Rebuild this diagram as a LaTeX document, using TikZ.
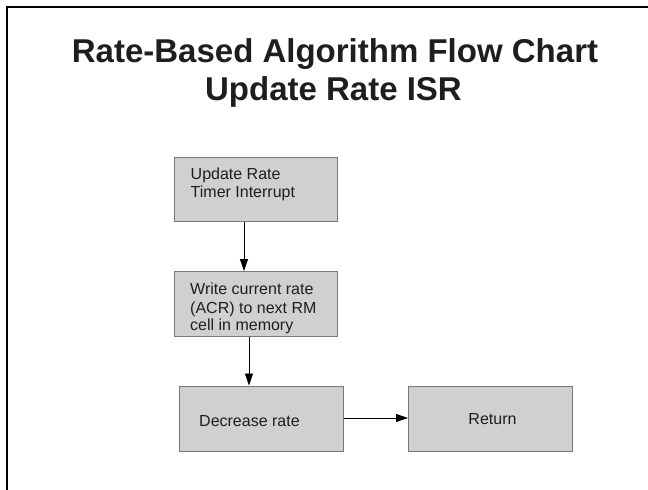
\documentclass[tikz,border=0pt]{standalone}
\usepackage{fontspec}
\setmainfont{Liberation Sans}
\usetikzlibrary{arrows.meta}
\definecolor{boxfill}{RGB}{208,208,208}
\definecolor{boxline}{RGB}{120,120,120}
\definecolor{ink}{RGB}{30,30,30}
\begin{document}
\begin{tikzpicture}[x=1pt,y=-1pt,
  box/.style={draw=boxline, fill=boxfill, line width=1pt, rectangle, inner sep=0pt},
  lbl/.style={font=\fontsize{16}{18.5}\selectfont, align=left, inner sep=0pt, anchor=base west, text=ink},
  ttl/.style={font=\fontsize{33}{38}\selectfont\bfseries, inner sep=0pt, anchor=base, text=ink},
  arr/.style={-{Triangle[length=12pt,width=8pt]}, line width=0.8pt}]
\useasboundingbox (0,0) rectangle (648,490);
\fill[white] (0,0) rectangle (648,490);
\draw[line width=2pt] (7,491) -- (7,7) -- (649,7);
\node[ttl] (t1) at (335,62) {Rate-Based Algorithm Flow Chart};
\node[ttl] (t2) at (333.5,100) {Update Rate ISR};
% boxes
\node[box, minimum width=163pt, minimum height=64pt, anchor=north west] (b1) at (174,157) {};
\node[box, minimum width=163pt, minimum height=65pt, anchor=north west] (b2) at (174,271) {};
\node[box, minimum width=164pt, minimum height=65pt, anchor=north west] (b3) at (179,385.5) {};
\node[box, minimum width=164pt, minimum height=65pt, anchor=north west] (b4) at (408,385.5) {};
% labels
\node[lbl] (l1a) at (190.5,179) {Update Rate};
\node[lbl] (l1b) at (190.5,197.7) {Timer Interrupt};
\node[lbl] (l2a) at (190,294.7) {Write current rate};
\node[lbl] (l2b) at (190,313) {(ACR) to next RM};
\node[lbl] (l2c) at (190,330.7) {cell in memory};
\node[lbl] (l3) at (199,426.7) {Decrease rate};
\node[lbl, anchor=base] (l4) at (492.5,424) {Return};
% connectors
\coordinate (x1) at (244,0);
\coordinate (x2) at (249,0);
\coordinate (y3) at (0,418);
\draw[arr] (b1.south -| x1) -- (b2.north -| x1);
\draw[arr] (b2.south -| x2) -- (b3.north -| x2);
\draw[arr] (b3.east |- y3) -- (b4.west |- y3);
\end{tikzpicture}
\end{document}
